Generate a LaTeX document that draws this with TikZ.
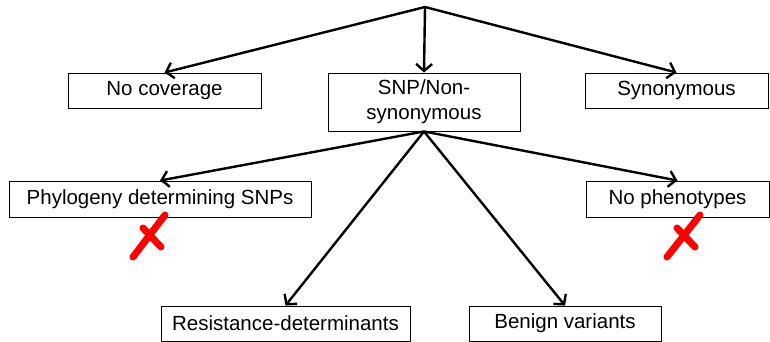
\documentclass[tikz,border=0pt]{standalone}
\usepackage{fontspec}
\setmainfont{Liberation Sans}
\usetikzlibrary{arrows.meta}
\begin{document}
\begin{tikzpicture}[x=1pt,y=-1pt,
  box/.style={draw=black,line width=0.9pt,inner sep=0pt,align=center,
    font=\fontsize{20.5}{25}\selectfont},
  link/.style={line width=2.4pt,
    -{Straight Barb[length=7pt,width=16pt,line width=2.4pt]}},
  cross/.style={red,line width=7pt,line cap=round}]
  \useasboundingbox (0,0) rectangle (770,342);

  \coordinate (top) at (425,7);
  \node[box,minimum width=193pt,minimum height=35pt] (nocov) at (164.5,90.5) {No coverage};
  \node[box,minimum width=192pt,minimum height=58pt] (snp) at (424,102) {SNP/Non-\\synonymous};
  \node[box,minimum width=183pt,minimum height=35pt] (syn) at (676.5,90.5) {Synonymous};

  \node[box,minimum width=302pt,minimum height=36pt] (phy) at (160,199) {Phylogeny determining SNPs};
  \node[box,minimum width=183pt,minimum height=36pt] (noph) at (677.5,199) {No phenotypes};
  \node[box,minimum width=249pt,minimum height=35pt] (res) at (285.5,323.5) {Resistance-determinants};
  \node[box,minimum width=192pt,minimum height=35pt] (ben) at (565,323.5) {Benign variants};

  \draw[link] (top) -- (nocov.north);
  \draw[link] (top) -- (snp.north);
  \draw[link] (top) -- (syn.north);

  \draw[link] (snp.south) -- (phy.north);
  \draw[link] (snp.south) -- (res.north);
  \draw[link] (snp.south) -- (ben.north);
  \draw[link] (snp.south) -- (noph.north);

  % red crosses under the rejected categories
  \draw[cross] (165,215) -- (133,257);
  \draw[cross] (143,228) -- (161,247);
  \draw[cross] (700,215) -- (667,257);
  \draw[cross] (677,228) -- (695,247);
\end{tikzpicture}
\end{document}
